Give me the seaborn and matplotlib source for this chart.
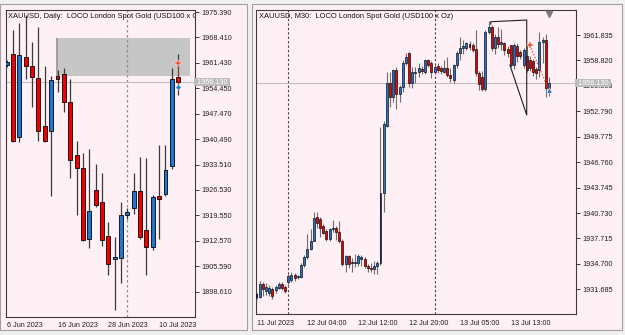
import numpy as np
import pandas as pd
import matplotlib
matplotlib.use("Agg")
import matplotlib.pyplot as plt
import matplotlib.transforms as mtransforms
from matplotlib.patches import Rectangle
import seaborn as sns

# ---------------- data: daily chart ----------------
d_open  = [1960.8, 1963.9, 1941.0, 1963.0, 1960.7, 1957.3, 1944.1, 1942.8, 1957.8, 1958.5,
           1950.7, 1936.2, 1932.6, 1913.2, 1926.6, 1923.2, 1914.0, 1907.6, 1908.0, 1919.6,
           1921.6, 1926.2, 1915.6, 1910.9, 1924.9, 1925.3, 1933.2, 1957.6]
d_high  = [1962.2, 1970.5, 1972.3, 1974.5, 1967.1, 1971.4, 1960.7, 1957.9, 1959.6, 1960.0,
           1956.9, 1939.9, 1936.7, 1937.8, 1933.7, 1931.1, 1917.8, 1913.6, 1923.2, 1921.5,
           1931.1, 1935.5, 1935.4, 1925.2, 1938.9, 1938.9, 1960.0, 1963.9]
d_low   = [1960.4, 1939.6, 1939.8, 1956.9, 1949.4, 1940.0, 1939.6, 1924.9, 1953.5, 1948.0,
           1929.9, 1919.6, 1912.5, 1910.7, 1921.8, 1911.2, 1903.2, 1893.5, 1901.1, 1918.5,
           1920.0, 1913.0, 1903.1, 1910.0, 1913.0, 1925.0, 1932.3, 1952.6]
d_close = [1961.8, 1940.0, 1963.6, 1960.7, 1957.6, 1942.6, 1940.1, 1956.6, 1957.0, 1950.6,
           1934.8, 1932.5, 1912.9, 1920.8, 1922.3, 1912.9, 1906.3, 1908.2, 1919.6, 1920.5,
           1926.2, 1913.5, 1910.9, 1924.6, 1924.0, 1932.0, 1956.9, 1956.13]
d_tick_pos = [0, 8, 16, 24]
d_tick_labels = ["6 Jun 2023", "16 Jun 2023", "28 Jun 2023", "10 Jul 2023"]
d_yticks = [1975.390, 1968.410, 1961.430, 1954.450, 1947.470, 1940.490,
            1933.510, 1926.530, 1919.550, 1912.570, 1905.590, 1898.610]
d_separator = [19]
d_zone_x = [7.9, 28.9]
d_zone_y = [1957.82, 1968.17]
d_trade_x = [27, 27]
d_trade_y = [1961.3, 1954.9]

# ---------------- data: M30 chart ----------------
m_open  = [1930.8, 1930.8, 1932.3, 1931.5, 1931.2, 1931.7, 1931.6, 1931.9, 1932.3, 1932.0,
           1932.5, 1932.8, 1933.4, 1933.1, 1933.1, 1934.6, 1935.5, 1936.5, 1937.4, 1940.3,
           1940.0, 1939.2, 1938.6, 1937.6, 1938.8, 1939.0, 1938.5, 1937.4, 1934.7, 1935.6,
           1934.9, 1934.8, 1934.8, 1935.3, 1935.3, 1934.4, 1934.2, 1934.1, 1934.5, 1934.8,
           1943.1, 1951.1, 1956.1, 1954.5, 1957.67, 1954.9, 1955.7, 1958.47, 1959.66, 1956.1,
           1957.3, 1957.4, 1957.8, 1957.5, 1958.86, 1958.5, 1957.5, 1958.2, 1957.9, 1957.5,
           1957.9, 1957.1, 1956.5, 1958.3, 1959.7, 1960.25, 1960.3, 1960.8, 1960.6, 1960.2,
           1957.3, 1956.8, 1955.4, 1962.2, 1962.8, 1960.3, 1961.6, 1960.8, 1960.85, 1960.2,
           1960.6, 1958.3, 1960.5, 1959.85, 1958.3, 1959.3, 1958.9, 1958.8, 1957.8, 1957.7,
           1961.0, 1961.2, 1955.5]
m_high  = [1931.3, 1932.7, 1932.5, 1932.4, 1932.2, 1932.0, 1932.2, 1932.6, 1932.5, 1932.2,
           1933.5, 1933.7, 1933.6, 1933.4, 1934.8, 1935.7, 1938.2, 1938.8, 1940.8, 1940.9,
           1940.3, 1939.4, 1938.8, 1939.0, 1939.9, 1939.2, 1939.8, 1937.6, 1935.8, 1935.8,
           1935.4, 1935.9, 1935.9, 1935.7, 1935.5, 1934.7, 1934.8, 1935.0, 1935.0, 1950.9,
           1951.6, 1957.5, 1957.5, 1957.8, 1958.06, 1955.9, 1958.9, 1959.66, 1959.85, 1958.0,
           1958.1, 1958.5, 1958.2, 1959.0, 1959.0, 1958.7, 1958.3, 1958.5, 1958.2, 1958.86,
           1959.2, 1957.9, 1958.4, 1959.9, 1961.6, 1961.2, 1961.0, 1961.1, 1960.9, 1962.4,
           1957.6, 1957.6, 1962.4, 1963.5, 1963.0, 1962.0, 1962.8, 1962.5, 1961.0, 1960.5,
           1960.7, 1960.9, 1960.9, 1960.1, 1960.3, 1960.6, 1959.3, 1959.0, 1958.0, 1962.2,
           1961.6, 1962.0, 1956.8]
m_low   = [1930.5, 1930.6, 1930.9, 1931.0, 1930.9, 1930.5, 1931.3, 1931.7, 1931.6, 1931.3,
           1932.0, 1932.5, 1932.7, 1932.9, 1933.0, 1934.3, 1935.3, 1936.3, 1937.4, 1939.0,
           1937.9, 1938.2, 1937.4, 1937.4, 1938.5, 1937.5, 1937.2, 1934.5, 1933.7, 1934.2,
           1933.7, 1934.3, 1934.4, 1934.4, 1934.2, 1933.7, 1933.7, 1933.5, 1933.5, 1934.6,
           1940.8, 1950.9, 1953.3, 1953.9, 1953.1, 1953.9, 1955.1, 1958.3, 1955.7, 1955.5,
           1956.2, 1956.8, 1957.2, 1957.2, 1958.0, 1956.7, 1957.2, 1957.3, 1957.2, 1957.3,
           1956.9, 1956.3, 1956.2, 1957.9, 1958.9, 1959.6, 1960.0, 1960.1, 1959.8, 1957.0,
           1955.3, 1955.2, 1955.2, 1962.0, 1959.9, 1959.6, 1960.3, 1960.0, 1959.5, 1959.2,
           1958.0, 1957.8, 1958.6, 1959.0, 1957.9, 1957.5, 1957.6, 1957.0, 1956.6, 1956.9,
           1958.5, 1954.5, 1954.6]
m_close = [1931.1, 1932.3, 1931.7, 1932.0, 1931.9, 1930.9, 1932.0, 1932.3, 1931.9, 1931.5,
           1933.3, 1933.4, 1933.0, 1933.2, 1934.6, 1935.5, 1936.5, 1937.4, 1940.2, 1939.6,
           1939.0, 1938.4, 1937.6, 1938.8, 1939.0, 1938.5, 1937.4, 1934.7, 1935.6, 1934.7,
           1934.8, 1934.9, 1935.6, 1935.5, 1934.4, 1934.2, 1934.1, 1934.5, 1934.8, 1943.1,
           1951.3, 1956.1, 1954.5, 1957.67, 1954.9, 1955.7, 1958.47, 1959.25, 1956.1, 1957.5,
           1957.5, 1957.9, 1957.6, 1958.86, 1958.26, 1957.5, 1958.0, 1957.7, 1957.6, 1957.9,
           1957.1, 1956.7, 1958.3, 1959.7, 1960.25, 1960.5, 1960.85, 1960.4, 1960.1, 1957.3,
           1956.0, 1955.4, 1962.2, 1962.8, 1960.3, 1961.6, 1960.8, 1961.0, 1960.05, 1959.7,
           1958.3, 1960.6, 1959.3, 1959.3, 1960.0, 1957.7, 1957.9, 1957.4, 1957.3, 1961.0,
           1961.2, 1955.5, 1956.13]
m_tick_pos = [0, 16, 32, 48, 64, 80]
m_tick_labels = ["11 Jul 2023", "12 Jul 04:00", "12 Jul 12:00", "12 Jul 20:00",
                 "13 Jul 05:00", "13 Jul 13:00"]
m_yticks = [1961.835, 1958.820, 1955.805, 1952.790, 1949.775, 1946.760,
            1943.745, 1940.730, 1937.715, 1934.700, 1931.685]
m_separators = [10, 56]
m_draw_x = [73.7, 73.7, 85.0, 85.0, 79.7]
m_draw_y = [1963.10, 1963.41, 1963.61, 1952.35, 1958.28]
m_trade_x = [86, 92]
m_trade_y = [1960.6, 1955.3]
m_shift_x = 92
bid_price = 1956.13

# ---------------- style ----------------
BLUE = "#1E78D2"
RED = "#F00000"
PINK = "#FFF0F5"
FRAME = "#F0F0F0"

sns.set_theme(style="white")
plt.rcParams["font.family"] = ["Liberation Sans", "DejaVu Sans"]

W, H = 625, 335
fig = plt.figure(figsize=(W / 100, H / 100), dpi=100, facecolor=FRAME)

# window panels (behind the axes)
for (x0, x1) in [(0, 247), (252, 622)]:
    fig.patches.append(Rectangle((x0 / W, 1 - 330 / H), (x1 - x0) / W, (330 - 4) / H,
                                 transform=fig.transFigure, facecolor=PINK,
                                 edgecolor="#A0A0A0", linewidth=0.8, zorder=-10))


def make_ax(left, top, right, bottom):
    ax = fig.add_axes([left / W, 1 - bottom / H, (right - left) / W, (bottom - top) / H])
    ax.set_zorder(5)
    return ax


def candles(ax, o, h, l, c, width, wick_color, wick_lw, edge_lw):
    df = pd.DataFrame({"x": np.arange(len(o)), "open": o, "high": h, "low": l, "close": c})
    df["up"] = df["close"] >= df["open"]
    ax.vlines(df["x"], df["low"], df["high"], color=wick_color, lw=wick_lw, zorder=3)
    bottom = np.minimum(df["open"], df["close"])
    span = ax.get_ylim()[1] - ax.get_ylim()[0]
    height = np.maximum((df["close"] - df["open"]).abs(), span * 0.004)
    colors = np.where(df["up"], BLUE, RED)
    ax.bar(df["x"], height, width, bottom, color=colors, edgecolor="black",
           linewidth=edge_lw, zorder=4)


def style_ax(ax, yticks, tick_pos, tick_labels):
    ax.set_facecolor(PINK)
    for s in ax.spines.values():
        s.set_visible(True)
        s.set_color("#3C3C3C")
        s.set_linewidth(0.8)
    ax.yaxis.tick_right()
    ax.set_yticks(yticks)
    ax.set_yticklabels([f"{v:.3f}" for v in yticks])
    ax.set_xticks(tick_pos)
    ax.set_xticklabels(tick_labels)
    for lbl in ax.get_xticklabels():
        lbl.set_ha("left")
    ax.tick_params(axis="y", direction="out", length=3, width=0.7, colors="#3C3C3C",
                   labelsize=5.2, pad=1.5, labelcolor="#202020")
    ax.tick_params(axis="x", direction="out", length=3, width=0.7, colors="#3C3C3C",
                   labelsize=5.2, pad=1.0, labelcolor="#202020")
    ax.grid(False)


def price_tag(ax, price):
    tr = mtransforms.blended_transform_factory(ax.transAxes, ax.transData)
    ax.text(1.0, price, " " + f"{price:.3f}" + " ", transform=tr, ha="left", va="center",
            fontsize=5.2, color="white", clip_on=False, zorder=10,
            bbox=dict(boxstyle="square,pad=0.1", facecolor="#BDBDBD", edgecolor="none"))


# ---------------- left: daily ----------------
axL = make_ax(6, 10, 195, 316.7)
axL.set_xlim(-0.11, 29.65)
axL.set_ylim(1891.75, 1975.94)
style_ax(axL, d_yticks, d_tick_pos, d_tick_labels)
axL.add_patch(Rectangle((d_zone_x[0], d_zone_y[0]), d_zone_x[1] - d_zone_x[0],
                        d_zone_y[1] - d_zone_y[0], facecolor="#C6C6C6", edgecolor="none", zorder=1))
axL.vlines(d_zone_x[0], d_zone_y[0], d_zone_y[1], color="#9A9A9A", lw=1.3, zorder=1)
for s in d_separator:
    axL.axvline(s, color="#8C8C8C", lw=0.9, ls=(0, (2, 2)), zorder=2)
axL.axhline(bid_price, color="#C0C0C0", lw=0.8, zorder=2)
candles(axL, d_open, d_high, d_low, d_close, 0.62, "#3A3A3A", 0.9, 0.6)
sns.lineplot(x=d_trade_x, y=d_trade_y, ax=axL, estimator=None, sort=False,
             color="#F04020", lw=0.9, linestyle=(0, (1, 1.5)), zorder=6, legend=False)
sns.scatterplot(x=d_trade_x[:1], y=d_trade_y[:1], ax=axL, marker="P", s=18,
                color="#F0502A", edgecolor="white", linewidth=0.3, zorder=7, legend=False)
sns.scatterplot(x=d_trade_x[1:], y=d_trade_y[1:], ax=axL, marker="D", s=8,
                color="#1E78D2", edgecolor="white", linewidth=0.3, zorder=7, legend=False)
axL.text(0.012, 0.980, "XAUUSD, Daily:  LOCO London Spot Gold (USD100 x Oz)",
         transform=axL.transAxes, fontsize=5.4, color="#101010", va="center",
         ha="left", clip_on=True, zorder=8)
axL.set_xlabel("")
axL.set_ylabel("")
price_tag(axL, bid_price)

# ---------------- right: M30 ----------------
axR = make_ax(256, 10, 576, 314)
axR.set_xlim(-0.16, 100.5)
axR.set_ylim(1928.76, 1964.80)
style_ax(axR, m_yticks, m_tick_pos, m_tick_labels)
for s in m_separators:
    axR.axvline(s, color="#404040", lw=0.8, ls=(0, (2, 2)), zorder=2)
axR.axhline(bid_price, color="#C0C0C0", lw=0.8, zorder=2)
candles(axR, m_open, m_high, m_low, m_close, 0.62, "#6E6E6E", 0.8, 0.45)
sns.lineplot(x=m_draw_x, y=m_draw_y, ax=axR, estimator=None, sort=False,
             color="#202020", lw=0.8, zorder=5, legend=False)
sns.lineplot(x=m_trade_x, y=m_trade_y, ax=axR, estimator=None, sort=False,
             color="#F04020", lw=0.9, linestyle=(0, (1, 1.5)), zorder=6, legend=False)
sns.scatterplot(x=m_trade_x[:1], y=m_trade_y[:1], ax=axR, marker="P", s=18,
                color="#F0502A", edgecolor="white", linewidth=0.3, zorder=7, legend=False)
sns.scatterplot(x=m_trade_x[1:], y=m_trade_y[1:], ax=axR, marker="^", s=14,
                color="#1E78D2", edgecolor="white", linewidth=0.3, zorder=7, legend=False)
trR = mtransforms.blended_transform_factory(axR.transData, axR.transAxes)
axR.plot([m_shift_x], [0.988], marker="v", markersize=5, color="#7A7A7A",
         transform=trR, clip_on=False, zorder=9)
axR.text(0.0094, 0.980, "XAUUSD, M30:  LOCO London Spot Gold (USD100 x Oz)",
         transform=axR.transAxes, fontsize=5.4, color="#101010", va="center",
         ha="left", clip_on=True, zorder=8)
axR.set_xlabel("")
axR.set_ylabel("")
price_tag(axR, bid_price)

fig.savefig("out.png", dpi=100, facecolor=FRAME)
